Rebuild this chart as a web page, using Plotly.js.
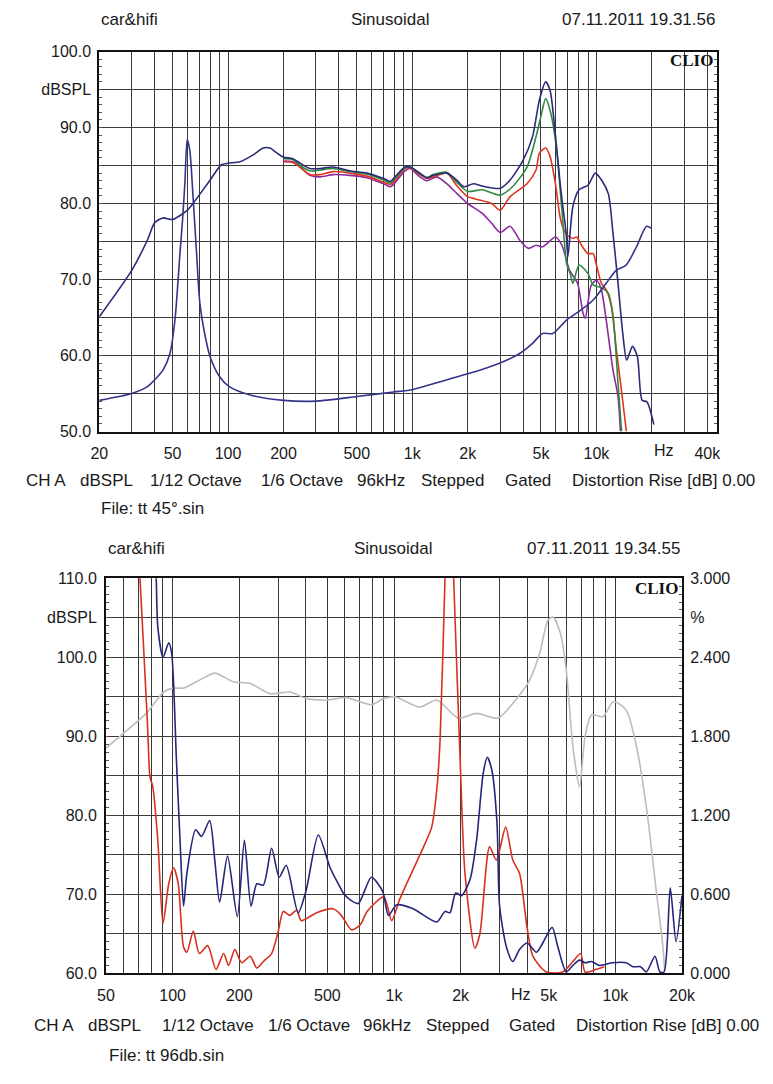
<!DOCTYPE html>
<html><head><meta charset="utf-8">
<script src="https://cdn.plot.ly/plotly-3.0.1.min.js"></script>
<style>html,body{margin:0;padding:0;background:#fff}#chart{width:773px;height:1084px}</style>
</head><body><div id="chart"></div>
<script>
// ---------- Top chart: frequency response (dBSPL) ----------
const navyFreq = [20,30,36.5,40,44.4,50,60,65,80,92,100,116,137,155,169,183,200,225,246,278,316,372,457,565,700,760,805,913,975,1100,1200,1300,1540,1740,1900,2150,2400,3000,3400,4000,4500,4900,5300,5600,6000,6350,6500,6850,7000,7450,8050,9000,9850,10650,11600,12300,13100,13900,14600,15700,16700,17700,18800,20500];
const navyDb = [65.1,71.2,75.2,77.5,78.1,77.9,79.1,80.1,83.1,85.1,85.3,85.5,86.4,87.3,87.3,86.7,86.1,85.9,85.3,84.6,84.6,84.8,84.3,84.0,83.3,82.9,83.5,84.8,84.8,84.0,83.4,83.7,84.0,83.1,82.2,82.6,82.3,82.0,83.1,85.7,88.8,93.6,96.0,94.9,88.8,82.7,80.5,76.1,73.0,79.6,81.8,82.4,84.0,83.1,81.3,76.1,69.5,62.9,59.4,61.2,59.8,54.1,53.9,50.9];

const greenFreq = [200,225,246,278,316,372,457,565,700,760,805,913,975,1100,1200,1300,1540,1740,2000,2400,3000,3500,4200,4700,5000,5300,5650,6050,6500,6900,7200,7450,8050,9000,9600,10700,11600,12300,13100,13700];
const greenDb = [85.9,85.8,85.0,84.3,84.4,84.6,84.2,83.9,83.1,82.7,83.3,84.7,84.8,83.9,83.4,83.8,84.1,82.8,81.6,81.8,81.1,82.2,84.8,88.8,91.5,93.8,91.9,87.5,79.0,72.0,70.8,69.5,71.9,70.8,69.3,68.9,68.2,65.3,56.3,50.0];

const redFreq = [200,225,246,278,316,372,457,565,700,760,805,913,975,1100,1200,1300,1540,1750,2000,2200,2700,3000,3400,4200,4700,4900,5300,5600,6000,6400,6900,7450,7800,8400,9000,9600,10000,10640,11330,12060,12840,13660,14540];
const redDb = [85.5,85.4,84.8,83.8,83.8,84.2,84.0,83.6,82.8,82.5,83.0,84.6,84.7,83.8,83.3,83.5,84.0,82.3,80.9,80.6,80.0,79.1,80.9,82.6,84.4,86.6,87.3,86.2,82.5,77.8,75.9,75.4,75.6,74.3,73.4,73.4,71.9,69.5,68.6,66.4,60.7,55.5,50.0];

const purpleFreq = [200,225,246,278,316,372,457,565,700,760,805,913,975,1100,1200,1360,1540,1750,2000,2400,2700,3000,3400,3830,4270,4700,5100,6000,6500,7150,7900,8450,8700,9350,10000,10600,11300,12300,13100,13500];
const purpleDb = [85.6,85.5,84.8,83.7,83.5,83.8,83.7,83.4,82.6,82.2,82.7,84.3,84.6,83.5,83.0,83.5,82.6,81.3,80.0,78.7,77.4,76.2,77.0,75.2,74.1,74.5,74.3,75.6,74.5,71.2,69.5,65.6,64.9,69.2,69.9,68.8,64.7,58.1,54.6,50.0];

const impFreq = [20,30,36.5,40,44.4,48.4,51.5,54.8,56.6,58.3,60,62,64.7,67.5,70.3,75.2,80,90,101.5,132,200,300,500,790,1000,1540,2345,3000,3850,4500,5100,5800,6900,8050,9600,11300,12800,14500,16500,18700,20000];
const impDb = [54.1,55.0,55.9,56.8,58.1,60.3,64.7,73.4,77.8,82.7,88.4,87.0,80.5,73.4,66.9,62.5,59.8,57.2,55.9,54.8,54.1,54.0,54.6,55.2,55.5,56.8,58.1,59.0,60.3,61.6,62.9,62.9,64.7,65.8,67.3,69.5,71.2,71.9,74.3,77.0,76.7];

// ---------- Bottom chart: response at 96 dB (dBSPL) and distortion (%) ----------
const grayFreq = [50,59.5,76,91,100,112,132,155,188,224,275,339,400,497,610,790,900,1010,1310,1560,1950,2360,2950,3450,4100,4550,4960,5230,5650,6000,6430,6890,7150,7300,7800,8800,9800,11200,12400,13800,15300,16400,16700];
const grayDb = [88.5,90.3,92.9,95.6,96.1,96.1,97.1,98.0,96.9,96.7,95.4,95.6,94.8,94.6,94.9,94.0,94.8,95.0,93.7,94.6,92.3,92.9,92.3,94.2,97.1,100.5,104.7,105.1,103.0,98.4,88.7,83.6,87.8,90.0,92.7,92.5,94.4,93.3,89.0,81.1,70.5,63.4,60.4];

const redPctFreq = [66,71.2,76.4,77.5,79,81.3,85.7,90.5,96,101,106,112,116,124,132,144,157,170,179,191,205,224,240,257,280,300,316,339,363,381,447,531,578,643,705,756,900,976,1060,1140,1360,1480,1560,1615,1700,1780,1860,1990,2092,2320,2444,2702,2900,3195,3440,3690,3990,4240,4880,5790,6426,6970,7300,8200,8900];
const redPct = [4.0,3.0,2.0,1.77,1.49,1.42,1.01,0.38,0.68,0.80,0.68,0.20,0.16,0.32,0.15,0.21,0.03,0.15,0.06,0.18,0.08,0.13,0.04,0.09,0.15,0.32,0.47,0.44,0.48,0.40,0.46,0.49,0.44,0.33,0.37,0.47,0.58,0.40,0.56,0.68,0.96,1.11,1.39,1.77,3.0,4.0,3.0,1.62,0.76,0.19,0.30,0.96,0.86,1.11,0.86,0.76,0.35,0.13,0.01,0.01,0.09,0.15,0.01,0.03,0.05];

const bluePctFreq = [82,84.3,85.7,90.5,96,99,104,108,112,116,127,135,147,155,163,177,196,211,226,240,257,280,303,326,369,401,455,515,560,590,632,690,790,890,943,1030,1220,1560,1700,1789,1900,2020,2204,2360,2530,2640,2770,2920,3000,3220,3440,3690,3990,4400,4700,5180,5500,6000,6430,6890,7300,7800,8450,9700,11200,12000,13000,13800,15100,15900,16600,17700,18800,20000];
const bluePct = [3.5,3.0,2.63,2.40,2.51,2.43,1.62,1.01,0.51,0.76,1.09,1.04,1.16,0.86,0.54,0.89,0.43,1.01,0.51,0.68,0.67,0.95,0.73,0.82,0.46,0.63,1.05,0.80,0.68,0.61,0.56,0.53,0.73,0.62,0.44,0.52,0.49,0.39,0.47,0.46,0.61,0.59,0.71,1.01,1.52,1.64,1.54,1.14,0.51,0.20,0.09,0.18,0.23,0.16,0.23,0.35,0.20,0.01,0.06,0.10,0.08,0.09,0.06,0.08,0.08,0.05,0.05,0.01,0.13,0.01,0.01,0.65,0.24,0.59];

// ---------- Tick labels ----------
const topXTickVals = [20,30,40,50,60,70,80,90,100,200,300,400,500,600,700,800,900,1000,2000,3000,4000,5000,6000,7000,8000,9000,10000,20000,30000,40000];
const topXTickText = ["20","","","50","","","","","100","200","","","500","","","","","1k","2k","","","5k","","","","","10k","","","40k"];
const topYTickVals = [50,55,60,65,70,75,80,85,90,95,100];
const topYTickText = ["50.0","","60.0","","70.0","","80.0","","90.0","dBSPL","100.0"];
const botXTickVals = [50,60,70,80,90,100,200,300,400,500,600,700,800,900,1000,2000,3000,4000,5000,6000,7000,8000,9000,10000,20000];
const botXTickText = ["50","","","","","100","200","","","500","","","","","1k","2k","","","5k","","","","","10k","20k"];
const botYTickVals = [60,65,70,75,80,85,90,95,100,105,110];
const botYTickText = ["60.0","","70.0","","80.0","","90.0","","100.0","dBSPL","110.0"];
const botY2TickVals = [0,0.3,0.6,0.9,1.2,1.5,1.8,2.1,2.4,2.7,3.0];
const botY2TickText = ["0.000","","0.600","","1.200","","1.800","","2.400","%","3.000"];

// ---------- Layout helpers (page pixels -> paper) ----------
const W = 773, H = 1084;
const px = v => v / W;
const py = v => 1 - v / H;
const FONT = "Liberation Sans, Arial, sans-serif";

const line = (c, w) => ({color: c, width: w, shape: 'spline', smoothing: 0.7});
const traces = [
  {x: purpleFreq, y: purpleDb, xaxis: 'x', yaxis: 'y', mode: 'lines', line: line('#8e2aa0', 1.6)},
  {x: redFreq, y: redDb, xaxis: 'x', yaxis: 'y', mode: 'lines', line: line('#e2331f', 1.6)},
  {x: greenFreq, y: greenDb, xaxis: 'x', yaxis: 'y', mode: 'lines', line: line('#2e8b3e', 1.6)},
  {x: navyFreq, y: navyDb, xaxis: 'x', yaxis: 'y', mode: 'lines', line: line('#2b2b78', 1.6)},
  {x: impFreq, y: impDb, xaxis: 'x', yaxis: 'y', mode: 'lines', line: line('#34348a', 1.6)},
  {x: grayFreq, y: grayDb, xaxis: 'x2', yaxis: 'y2', mode: 'lines', line: line('#bdbdbd', 1.6)},
  {x: redPctFreq, y: redPct, xaxis: 'x2', yaxis: 'y3', mode: 'lines', line: line('#d8301f', 1.6)},
  {x: bluePctFreq, y: bluePct, xaxis: 'x2', yaxis: 'y3', mode: 'lines', line: line('#25257a', 1.6)}
];

const gridC = '#3a3a3a';
const tickFont = {family: FONT, size: 16, color: '#1a1a1a'};
const baseX = {
  type: 'log', showgrid: true, gridcolor: gridC, gridwidth: 1,
  showline: true, linecolor: '#111', linewidth: 2, mirror: true,
  ticks: '', tickfont: tickFont, tickmode: 'array', zeroline: false,
  ticklabelstandoff: 6, fixedrange: true
};
const baseY = {
  showgrid: true, gridcolor: gridC, gridwidth: 1,
  showline: true, linecolor: '#111', linewidth: 2,
  ticks: 'inside', ticklen: 3, tickcolor: '#555', tickfont: tickFont,
  tickmode: 'array', zeroline: false, fixedrange: true,
  minor: {dtick: 1, ticks: 'inside', ticklen: 3, tickcolor: '#555', showgrid: false}
};

const ann = (text, x, y, xanchor, size, extra) => Object.assign({
  text: text, xref: 'paper', yref: 'paper', x: px(x), y: py(y),
  xanchor: xanchor, yanchor: 'middle', showarrow: false,
  font: {family: FONT, size: size, color: '#1a1a1a'}
}, extra || {});

const clioFont = {font: {family: 'Liberation Serif, serif', size: 17, color: '#111', weight: 'bold'}};
const annotations = [
  ann('car&amp;hifi', 99, 20, 'left', 17),
  ann('Sinusoidal', 390, 20, 'center', 17),
  ann('07.11.2011 19.31.56', 717, 20, 'right', 17),
  ann('CLIO', 715, 60, 'right', 17, clioFont),
  ann('Hz', 664, 451, 'center', 16),
  ann('CH A', 24, 480, 'left', 17), ann('dBSPL', 78, 480, 'left', 17),
  ann('1/12 Octave', 148, 480, 'left', 17), ann('1/6 Octave', 259, 480, 'left', 17),
  ann('96kHz', 355, 480, 'left', 17), ann('Stepped', 419, 480, 'left', 17),
  ann('Gated', 503, 480, 'left', 17), ann('Distortion Rise [dB] 0.00', 570, 480, 'left', 17),
  ann('File: tt 45°.sin', 99, 508, 'left', 17),

  ann('car&amp;hifi', 106, 548, 'left', 17),
  ann('Sinusoidal', 393, 548, 'center', 17),
  ann('07.11.2011 19.34.55', 682, 548, 'right', 17),
  ann('CLIO', 680, 588, 'right', 17, clioFont),
  ann('Hz', 521, 995, 'center', 16),
  ann('CH A', 32, 1025, 'left', 17), ann('dBSPL', 86, 1025, 'left', 17),
  ann('1/12 Octave', 160, 1025, 'left', 17), ann('1/6 Octave', 266, 1025, 'left', 17),
  ann('96kHz', 361, 1025, 'left', 17), ann('Stepped', 424, 1025, 'left', 17),
  ann('Gated', 507, 1025, 'left', 17), ann('Distortion Rise [dB] 0.00', 574, 1025, 'left', 17),
  ann('File: tt 96db.sin', 107, 1055, 'left', 17)
];

const layout = {
  width: W, height: H, margin: {l: 0, r: 0, t: 0, b: 0},
  paper_bgcolor: '#fff', plot_bgcolor: '#fff', showlegend: false, hovermode: false,
  font: {family: FONT, color: '#1a1a1a'},
  xaxis: Object.assign({}, baseX, {domain: [px(99.3), px(716.7)], anchor: 'y',
    range: [1.30098, 4.653], tickvals: topXTickVals, ticktext: topXTickText}),
  yaxis: Object.assign({}, baseY, {domain: [py(431.5), py(51.5)], anchor: 'x',
    range: [50, 100], tickvals: topYTickVals, ticktext: topYTickText, mirror: 'ticks', ticklabelstandoff: 3}),
  xaxis2: Object.assign({}, baseX, {domain: [px(106), px(682)], anchor: 'y2',
    range: [1.69892, 4.30108], tickvals: botXTickVals, ticktext: botXTickText}),
  yaxis2: Object.assign({}, baseY, {domain: [py(973.3), py(578.3)], anchor: 'x2',
    range: [60, 110], tickvals: botYTickVals, ticktext: botYTickText, ticklabelstandoff: 4}),
  yaxis3: Object.assign({}, baseY, {overlaying: 'y2', side: 'right', anchor: 'x2',
    range: [0, 3], tickvals: botY2TickVals, ticktext: botY2TickText, showgrid: false,
    ticklabelstandoff: 3, minor: {dtick: 0.06, ticks: 'inside', ticklen: 3, tickcolor: '#555', showgrid: false}}),
  annotations: annotations
};

Plotly.newPlot('chart', traces, layout, {staticPlot: true, displayModeBar: false});
</script>
</body></html>
